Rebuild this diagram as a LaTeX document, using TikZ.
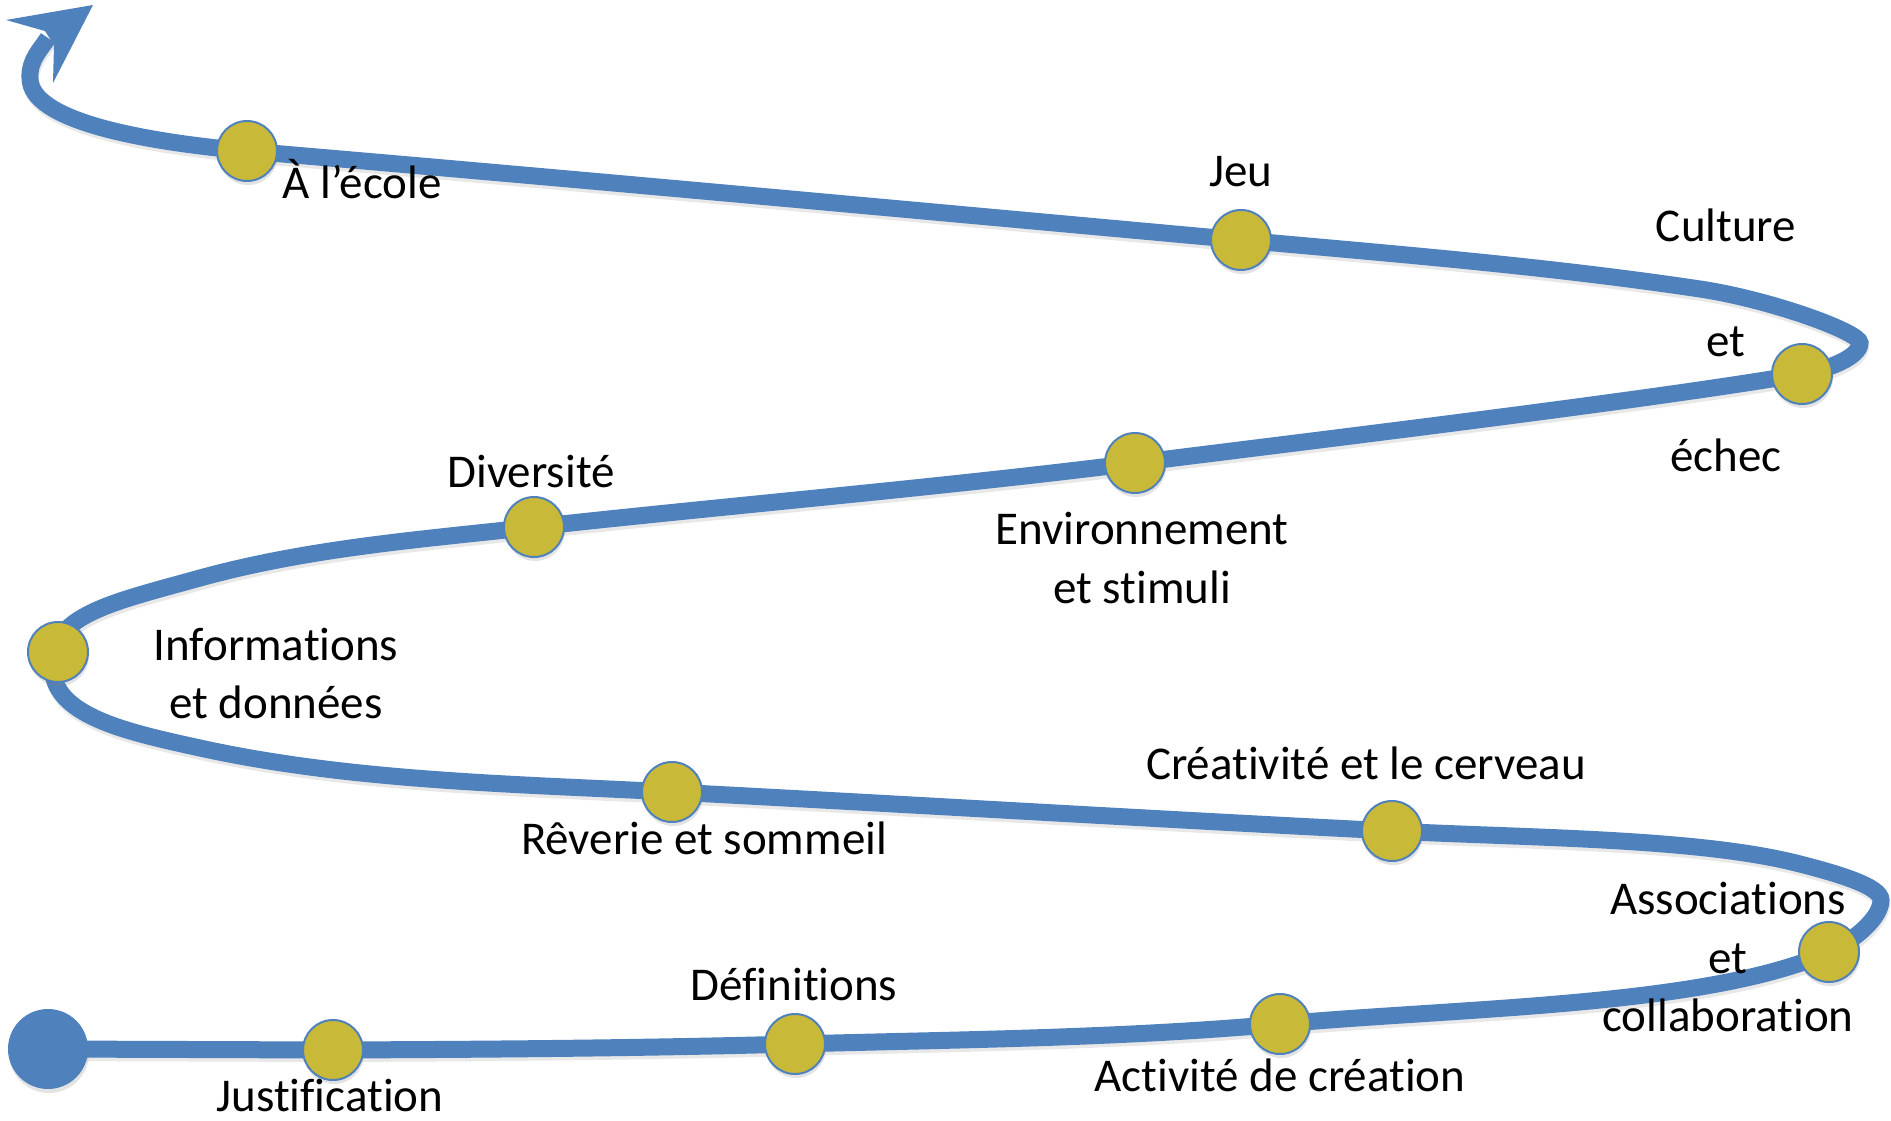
\documentclass[tikz,border=0pt]{standalone}
\usepackage{fontspec}
\setmainfont[Ligatures=NoCommon]{Carlito}
\usetikzlibrary{shadows}
\definecolor{spblue}{HTML}{4F81BD}
\definecolor{spgold}{HTML}{C9B938}
\begin{document}
\begin{tikzpicture}[x=1pt,y=-1pt,
  spiral/.style={draw=spblue, line width=17pt},
  dotnode/.style={circle, minimum size=60pt, inner sep=0pt, fill=spgold, draw=spblue, line width=2pt,
    drop shadow={shadow xshift=1pt, shadow yshift=-4pt, opacity=0.22}},
  lab/.style={anchor=base, inner sep=0pt, font=\fontsize{47}{59}\selectfont}
]
\useasboundingbox (0,0) rectangle (1891,1121);
% positions of the stations
\coordinate (ps) at (48,1049);
\coordinate (p1) at (333,1050);
\coordinate (p2) at (795,1044);
\coordinate (p3) at (1280,1024);
\coordinate (p4) at (1829,952);
\coordinate (p5) at (1392,831);
\coordinate (p6) at (672,792);
\coordinate (p7) at (58,652);
\coordinate (p8) at (534,527);
\coordinate (p9) at (1135,463);
\coordinate (p10) at (1802,374);
\coordinate (p11) at (1241,240);
\coordinate (p12) at (247,151);
% shape points of the curve
\coordinate (t1) at (1881,900);
\coordinate (q1) at (1800,864);
\coordinate (q2) at (200,748);
\coordinate (l4) at (52,665);
\coordinate (q3) at (200,578);
\coordinate (r1) at (1860,343);
\coordinate (q4) at (1700,289);
\coordinate (a3) at (30,78);
\coordinate (a4) at (48,38);
\coordinate (tip) at (93,5);
\coordinate (bl) at (6,20);
\coordinate (nl) at (45,31);
\coordinate (nr) at (54,45);
\coordinate (br) at (53,83);
\def\spiralpath{(ps) -- (p1)
 .. controls (487,1049.4) and (641,1048.2) .. (p2)
 .. controls (957,1039.6) and (1118,1038.4) .. (p3)
 .. controls (1465,1007.5) and (1709,1006) .. (p4)
 .. controls (1854,940.75) and (1881,918) .. (t1)
 .. controls (1881,886) and (1835,873) .. (q1)
 .. controls (1700,838) and (1528,838) .. (p5)
 .. controls (1152,819) and (912,804.5) .. (p6)
 .. controls (514,784) and (350,781) .. (q2)
 .. controls (122,731) and (52,715) .. (l4)
 .. controls (52,615) and (110,603) .. (q3)
 .. controls (309,548) and (421,539.4) .. (p8)
 .. controls (734,505) and (935,488) .. (p9)
 .. controls (1355,435.5) and (1652,399.5) .. (p10)
 .. controls (1828,369.6) and (1860,357) .. (r1)
 .. controls (1860,332) and (1770,299.5) .. (q4)
 .. controls (1546,266) and (1395,254) .. (p11)
 .. controls (911,210) and (577,179) .. (p12)
 .. controls (137,141) and (30,120) .. (a3)
 .. controls (29,60) and (41,49) .. (a4)}
% shadow
\begin{scope}[transform canvas={shift={(1pt,-4pt)}}]
\draw[line width=16pt, black, opacity=0.09] \spiralpath;
\end{scope}
% the path
\draw[spiral] \spiralpath;
\fill[spblue] (tip) -- (bl) -- (nl) -- (nr) -- (br) -- cycle;
% start dot
\node[circle, minimum size=80pt, inner sep=0pt, fill=spblue, drop shadow={shadow xshift=1pt, shadow yshift=-4pt, opacity=0.22}] (s) at (ps) {};
% stations
\node[dotnode] (d1) at (p1) {};
\node[dotnode] (d2) at (p2) {};
\node[dotnode] (d3) at (p3) {};
\node[dotnode] (d4) at (p4) {};
\node[dotnode] (d5) at (p5) {};
\node[dotnode] (d6) at (p6) {};
\node[dotnode] (d7) at (p7) {};
\node[dotnode] (d8) at (p8) {};
\node[dotnode] (d9) at (p9) {};
\node[dotnode] (d10) at (p10) {};
\node[dotnode] (d11) at (p11) {};
\node[dotnode] (d12) at (p12) {};
% labels
\node[lab] (ecole) at (362,199) {À l’école};
\node[lab] (jeu) at (1241,186) {Jeu};
\node[lab] (cult1) at (1726,241) {Culture};
\node[lab] (cult2) at (1726,356) {et};
\node[lab] (cult3) at (1726,471) {échec};
\node[lab] (div) at (531,487) {Diversité};
\node[lab] (env1) at (1142,544) {Environnement};
\node[lab] (env2) at (1142,603) {et stimuli};
\node[lab] (inf1) at (276,660) {Informations};
\node[lab] (inf2) at (276,718) {et données};
\node[lab] (crea) at (1366,779) {Créativité et le cerveau};
\node[lab] (rev) at (704,854) {Rêverie et sommeil};
\node[lab] (ass1) at (1728,914) {Associations};
\node[lab] (ass2) at (1728,973) {et};
\node[lab] (ass3) at (1728,1031) {collaboration};
\node[lab] (def) at (794,1000) {Définitions};
\node[lab] (act) at (1280,1091) {Activité de création};
\node[lab] (just) at (330,1111) {Justification};
\end{tikzpicture}
\end{document}
